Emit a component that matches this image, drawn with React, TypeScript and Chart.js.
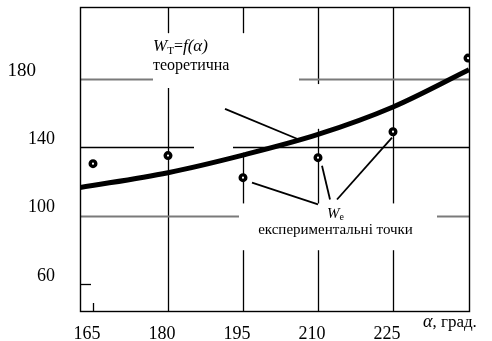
import React, { useEffect, useRef } from "react";
import { Chart, registerables } from "chart.js";

Chart.register(...registerables);

// ---- data ----
const xTickValues = [165, 180, 195, 210, 225];
const yTickValues = [60, 100, 140, 180];

// experimental points W_e
const pointAlpha = [165, 180, 195, 210, 225, 240];
const pointW = [130.5, 135.2, 122.3, 134.0, 149.2, 192.3];

// theoretical curve W_T = f(alpha)
const curveAlpha = [162.4, 180, 195, 210, 225, 240.2];
const curveW = [116.5, 125.2, 135.5, 147.6, 163.7, 185.5];

// leader lines for the annotations
const theoLeaderAlpha = [191.4, 205.8];
const theoLeaderW = [162.6, 145.1];
const expLeaderAAlpha = [196.8, 210.0];
const expLeaderAW = [119.4, 106.6];
const expLeaderBAlpha = [210.8, 212.4];
const expLeaderBW = [129.3, 109.5];
const expLeaderCAlpha = [224.8, 213.8];
const expLeaderCW = [145.7, 109.5];

const X_MIN = 162.4;
const X_MAX = 240.2;
const Y_MIN = 44.2;
const Y_MAX = 222;

const SERIF = '"Liberation Serif", "Times New Roman", serif';

const zip = (xs: number[], ys: number[]) => xs.map((x, i) => ({ x, y: ys[i] }));

const decorPlugin = {
  id: "decor",
  beforeDatasetsDraw(chart: any) {
    const { ctx, chartArea: a, scales } = chart;
    const xs = scales.x;
    const ys = scales.y;
    const X = (v: number) => xs.getPixelForValue(v);
    const Y = (v: number) => ys.getPixelForValue(v);
    ctx.save();
    ctx.lineCap = "butt";
    const vline = (alpha: number, segs: number[][], color: string, w: number) => {
      ctx.strokeStyle = color;
      ctx.lineWidth = w;
      const px = Math.round(X(alpha)) + 0.5;
      segs.forEach(([v1, v2]) => {
        ctx.beginPath();
        ctx.moveTo(px, Y(v1));
        ctx.lineTo(px, Y(v2));
        ctx.stroke();
      });
    };
    const hline = (val: number, segs: number[][], color: string, w: number) => {
      ctx.strokeStyle = color;
      ctx.lineWidth = w;
      const py = Math.round(Y(val)) + 0.5;
      segs.forEach(([a1, a2]) => {
        ctx.beginPath();
        ctx.moveTo(X(a1), py);
        ctx.lineTo(X(a2), py);
        ctx.stroke();
      });
    };
    const black = "#000";
    const gray = "#7a7a7a";
    // vertical grid lines (with gaps where the scan has them)
    vline(165, [[48.9, Y_MIN]], black, 1.3);
    vline(180, [[Y_MAX, 206.9], [174.8, Y_MIN]], black, 1.3);
    vline(195, [[Y_MAX, 206.9], [136.9, 107.2], [79.8, Y_MIN]], black, 1.3);
    vline(210, [[Y_MAX, 177.1], [150.9, 107.2], [79.8, Y_MIN]], black, 1.3);
    vline(225, [[Y_MAX, 107.2], [79.8, Y_MIN]], black, 1.3);
    // horizontal grid lines
    hline(180, [[X_MIN, 177], [206.2, X_MAX]], gray, 2);
    hline(140, [[X_MIN, 185.2], [193, X_MAX]], black, 1.3);
    hline(100, [[X_MIN, 194.2], [233.8, X_MAX]], gray, 2);
    hline(60, [[X_MIN, 164.6]], black, 1.3);
    // frame
    ctx.strokeStyle = black;
    ctx.lineWidth = 1.4;
    ctx.strokeRect(
      Math.round(a.left) + 0.5,
      Math.round(a.top) + 0.5,
      Math.round(a.right - a.left),
      Math.round(a.bottom - a.top)
    );
    ctx.restore();
  },
  afterDatasetsDraw(chart: any) {
    const { ctx, chartArea: a, scales } = chart;
    const X = (v: number) => scales.x.getPixelForValue(v);
    const Y = (v: number) => scales.y.getPixelForValue(v);
    ctx.save();
    ctx.fillStyle = "#000";
    ctx.textBaseline = "alphabetic";
    ctx.textAlign = "left";
    const piece = (txt: string, x: number, y: number, font: string) => {
      ctx.font = font;
      ctx.fillText(txt, x, y);
      return x + ctx.measureText(txt).width;
    };
    // W_T = f(alpha)  теоретична
    let x0 = X(177);
    let y0 = Y(196.4);
    let cx = piece("W", x0, y0, `italic 17px ${SERIF}`);
    cx = piece("Т", cx, y0 + 3, `11px ${SERIF}`);
    cx = piece("=", cx, y0, `16px ${SERIF}`);
    cx = piece("f(α)", cx, y0, `italic 17px ${SERIF}`);
    piece("теоретична", x0, Y(185.3), `16px ${SERIF}`);

    // W_e  експериментальні точки
    const ex = X(213.5);
    ctx.font = `italic 15px ${SERIF}`;
    const wW = ctx.measureText("W").width;
    ctx.font = `10px ${SERIF}`;
    const eW = ctx.measureText("е").width;
    let wx = ex - (wW + eW) / 2;
    wx = piece("W", wx, Y(98.4), `italic 15px ${SERIF}`);
    piece("е", wx, Y(98.4) + 2, `10px ${SERIF}`);
    ctx.textAlign = "center";
    ctx.font = `15px ${SERIF}`;
    ctx.fillText("експериментальні точки", ex, Y(89.1));

    // axis title
    ctx.textAlign = "left";
    let tx = X(231);
    const ty = a.bottom + 16;
    tx = piece("α", tx, ty, `italic 18px ${SERIF}`);
    piece(", град.", tx, ty, `17px ${SERIF}`);
    ctx.restore();
  },
};

const zeroPad = (s: any) => {
  s.paddingTop = 0;
  s.paddingBottom = 0;
  s.paddingLeft = 0;
  s.paddingRight = 0;
};

export default function App() {
  const canvasRef = useRef<HTMLCanvasElement | null>(null);

  useEffect(() => {
    if (!canvasRef.current) return;
    const chart = new Chart(canvasRef.current, {
      type: "scatter",
      data: {
        datasets: [
          {
            label: "W_e",
            data: zip(pointAlpha, pointW),
            showLine: false,
            pointRadius: 2.8,
            pointBorderWidth: 3.4,
            pointBorderColor: "#000",
            pointBackgroundColor: "#fff",
            order: 0,
          },
          {
            label: "W_T",
            data: zip(curveAlpha, curveW),
            showLine: true,
            borderColor: "#000",
            borderWidth: 5,
            pointRadius: 0,
            cubicInterpolationMode: "monotone",
            order: 1,
          },
          ...[
            zip(theoLeaderAlpha, theoLeaderW),
            zip(expLeaderAAlpha, expLeaderAW),
            zip(expLeaderBAlpha, expLeaderBW),
            zip(expLeaderCAlpha, expLeaderCW),
          ].map((d, i) => ({
            label: "leader" + i,
            data: d,
            showLine: true,
            borderColor: "#000",
            borderWidth: 1.8,
            pointRadius: 0,
            order: 2,
          })),
        ],
      },
      options: {
        responsive: false,
        animation: false,
        layout: { padding: { top: 6, right: 23, left: 0, bottom: 0 } },
        plugins: {
          legend: { display: false },
          tooltip: { enabled: false },
        },
        scales: {
          x: {
            type: "linear",
            min: X_MIN,
            max: X_MAX,
            afterBuildTicks: (s: any) => {
              s.ticks = xTickValues.map((v) => ({ value: v }));
            },
            afterFit: (s: any) => {
              s.height = 30;
              zeroPad(s);
            },
            grid: { display: false, drawTicks: false },
            border: { display: false },
            ticks: {
              padding: 12,
              labelOffset: -6,
              maxRotation: 0,
              autoSkip: false,
              color: "#000",
              font: { family: SERIF, size: 18 },
              callback: (v: any) => String(v),
            },
          },
          y: {
            type: "linear",
            min: Y_MIN,
            max: Y_MAX,
            afterBuildTicks: (s: any) => {
              s.ticks = yTickValues.map((v) => ({ value: v }));
            },
            afterFit: (s: any) => {
              s.width = 80;
              zeroPad(s);
            },
            grid: { display: false, drawTicks: false },
            border: { display: false },
            ticks: {
              padding: 25,
              labelOffset: -8,
              autoSkip: false,
              color: "#000",
              font: (c: any) => ({
                family: SERIF,
                size: c.tick && c.tick.value === 180 ? 19 : 18,
              }),
              callback: (v: any) => (v === 180 ? "180\u2002\u2002" : String(v)),
            },
          },
        },
      },
      plugins: [decorPlugin],
    });
    return () => chart.destroy();
  }, []);

  return (
    <div style={{ position: "fixed", left: 0, top: 0, width: 492, height: 341, background: "#fff" }}>
      <canvas ref={canvasRef} width={492} height={341} style={{ width: 492, height: 341 }} />
    </div>
  );
}
